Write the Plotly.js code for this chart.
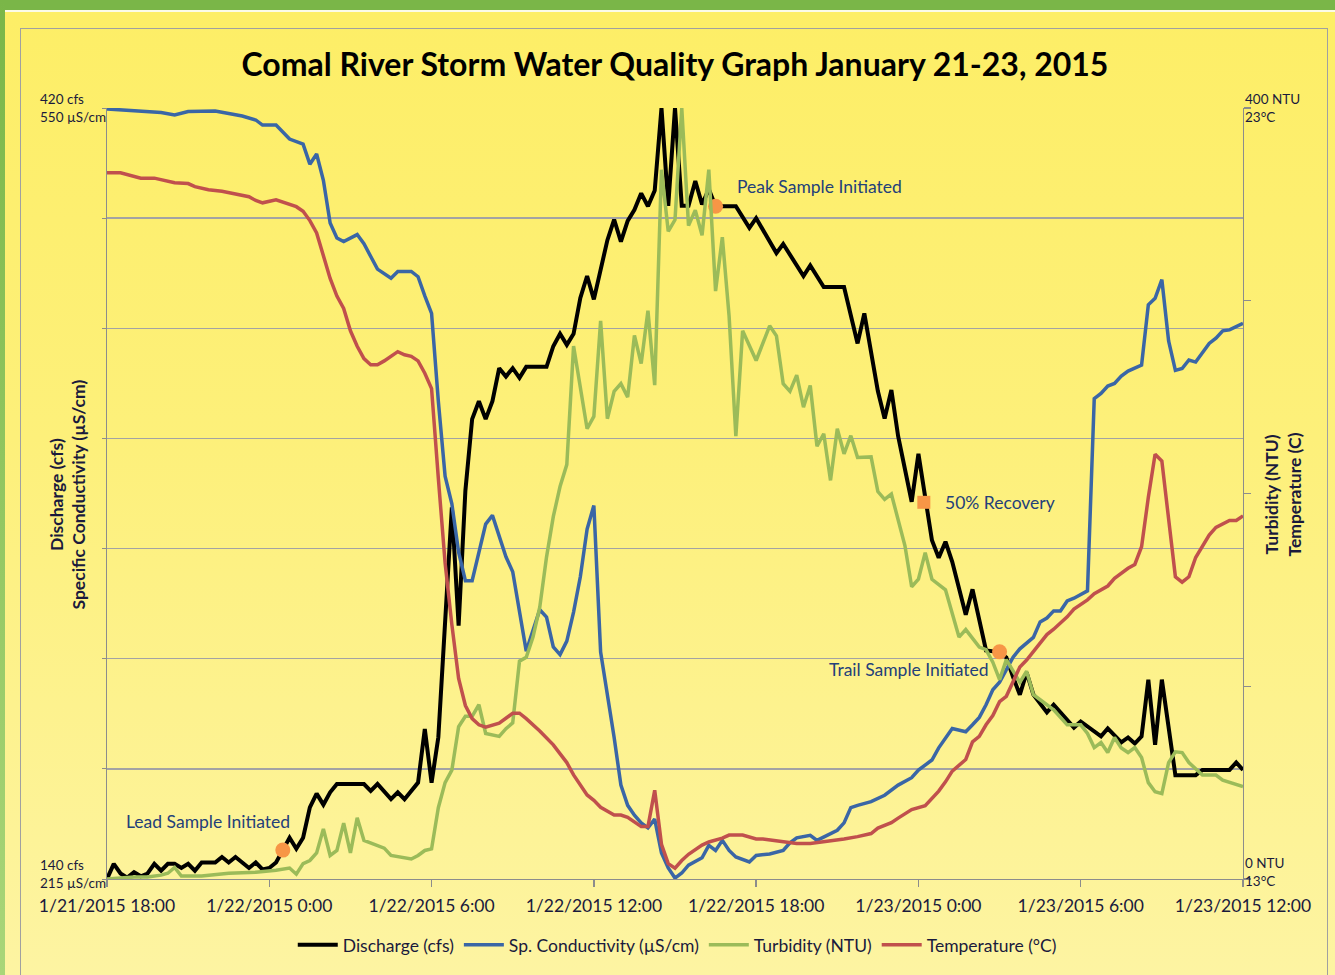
<!DOCTYPE html>
<html>
<head>
<meta charset="utf-8">
<script src="https://cdn.plot.ly/plotly-3.0.1.min.js"></script>
<style>
  html, body { margin: 0; padding: 0; }
  body { width: 1335px; height: 975px; overflow: hidden; position: relative;
         background: linear-gradient(to bottom, #fdee66 0%, #fdf07a 45%, #fdf4a2 100%); }
  #topband { position: absolute; left: 0; top: 0; width: 1335px; height: 10px; background: #7ab648; }
  #whiteline { position: absolute; left: 5px; top: 10px; width: 1330px; height: 2px; background: #fbfbe8; }
  #leftband { position: absolute; left: 0; top: 0; width: 5px; height: 975px; background: linear-gradient(to bottom, #7ab648, #a9d679); }
  #frame { position: absolute; left: 20px; top: 28px; width: 1308px; height: 960px; border: 1px solid #a0a0a0; box-sizing: border-box; }
  #chart { position: absolute; left: 0; top: 0; width: 1335px; height: 975px; }
</style>
</head>
<body>
<div id="topband"></div>
<div id="whiteline"></div>
<div id="leftband"></div>
<div id="frame"></div>
<div id="chart"></div>
<script>
// Hours after 1/21/2015 18:00
const xTickVals = [0, 6, 12, 18, 24, 30, 36, 42];
const xTickText = ["1/21/2015 18:00", "1/22/2015 0:00", "1/22/2015 6:00", "1/22/2015 12:00",
                   "1/22/2015 18:00", "1/23/2015 0:00", "1/23/2015 6:00", "1/23/2015 12:00"];

// Discharge (cfs)
const dischargeT = [0,0.25,0.5,0.75,1,1.25,1.5,1.75,2,2.25,2.5,2.75,3,3.25,3.5,4,4.25,4.5,4.75,5,5.25,5.5,5.75,6,6.25,6.5,6.75,7,7.25,7.5,7.75,8,8.25,8.5,9.5,9.75,10,10.5,10.75,11,11.5,11.75,12,12.25,12.5,12.75,13,13.25,13.5,13.75,14,14.25,14.5,14.75,15,15.25,15.5,16.25,16.5,16.75,17,17.25,17.5,17.75,18,18.25,18.5,18.75,19,19.25,19.5,19.75,20,20.25,20.5,20.75,21,21.25,21.5,21.75,22,22.25,22.5,23.25,23.75,24,24.75,25,25.75,26,26.5,27.25,27.75,28,28.5,28.75,29,29.25,29.75,30,30.5,30.75,31,31.25,31.75,32,32.5,33,33.25,33.5,33.75,34,34.25,34.75,35,35.75,36,36.75,37,37.5,37.75,38,38.25,38.5,38.75,39,39.5,40.25,40.5,41.5,41.75,42];
const dischargeQ = [140,145.5,142,140.5,142.5,141,142,145.5,143,145.5,145.5,144,145.5,143,146,146,148,146,148,146,144,146,143.5,144,146,150.5,155,151,155,166,171,167,171.5,174.5,174.5,172,174.5,169,171.5,169,175,194.5,175,191.5,235,275,232,281,307,313.5,307,313.5,325.5,322.5,325.5,322,326,326,333.5,338,334,338,351,359,350.5,361,372,379.5,371.5,379,383,389,384.3,390,420,384.5,420,384.5,384.5,393.5,385,390.5,384.3,384.3,376.5,380,367.3,370.6,359,362.8,355,355,334.5,345.4,317.2,307.2,317.6,300.8,277,294.4,263,256.7,262.5,255.2,236,245.2,223,222.4,220.5,213.3,206.9,215,207,200.5,203.3,195,197.2,191.8,194.7,189.6,191.4,189.2,191.8,212.4,188.7,212.4,177.7,177.7,179.6,179.6,182.3,179.6];

// Specific conductivity (uS/cm)
const condT = [0,1,2,2.5,3,4,4.5,5,5.5,5.75,6.25,6.75,7.25,7.5,7.75,8,8.25,8.5,8.75,9.25,9.5,10,10.5,10.75,11.25,11.5,11.75,12,12.25,12.5,12.75,13,13.25,13.5,14,14.25,14.75,15,15.5,16,16.25,16.5,16.75,17,17.25,17.5,17.75,18,18.25,18.5,18.75,19,19.25,19.5,19.75,20,20.25,20.5,20.75,21,21.25,21.5,22,22.25,22.5,22.75,23,23.25,23.75,24,24.5,25,25.25,25.5,26,26.25,26.5,27,27.25,27.5,27.75,28.25,28.75,29.25,29.75,30,30.5,30.75,31.25,31.75,32,32.25,32.5,32.75,33,33.25,33.5,33.75,34.25,34.5,34.75,35,35.25,35.5,35.75,36.25,36.5,36.75,37,37.25,37.5,37.75,38.25,38.5,38.75,39,39.25,39.5,39.75,40,40.25,40.75,41,41.25,41.5,42];
const condC = [549.6,548.7,548,547,548.5,548.7,547.5,546.5,544.8,542.6,542.6,536.5,534.3,525.6,530,518.6,500,493.5,492,495,491,480,476,479,479,476.7,468.4,460.8,422.6,390,378,357,344.6,344.6,369.2,373,355,348.5,314,332,328.8,315.8,312.5,318.4,331,346.3,367,377.3,313.6,296,276.5,255.8,247,242.7,239.4,237.2,241,226.3,219.8,215.4,217.6,221,224.2,229.6,227.4,231.8,227.4,224.6,222.4,225.2,225.9,227.4,230.7,232.9,234,231.8,233.3,236.2,239.4,246,247,248.6,251.4,255.8,259,262.3,266.7,272,280.4,279,282,285.2,290.7,297.2,300.5,306,311.4,315,320,326.7,328.4,331.5,331.5,335.8,337,340.2,423.7,426,429.2,430.3,433.5,435.7,438.3,464.5,467.3,475.4,448.8,436,436.8,440.5,439.6,447.7,450,453.2,453.6,456.4];

// Turbidity (NTU)
const turbT = [0,0.5,1,1.5,2,2.25,2.5,2.75,3.5,4.5,5.5,6.25,6.75,7,7.25,7.5,7.75,8,8.25,8.5,8.75,9,9.25,9.5,10,10.25,10.5,11,11.25,11.5,11.75,12,12.25,12.5,12.75,13,13.25,13.5,13.75,14,14.5,14.75,15,15.25,15.5,15.75,16,16.25,16.5,16.75,17,17.25,17.75,18,18.25,18.5,18.75,19,19.25,19.5,19.75,20,20.25,20.5,20.75,21,21.25,21.5,21.75,22,22.25,22.5,22.75,23,23.25,23.5,24,24.5,24.75,25,25.25,25.5,25.75,26,26.25,26.5,26.75,27,27.25,27.5,27.75,28.25,28.5,28.75,29,29.5,29.75,30,30.25,30.5,31,31.5,31.75,32.25,32.5,32.75,33,33.25,33.75,34,34.25,34.5,35,35.5,36,36.25,36.5,36.75,37,37.25,37.5,37.75,38,38.25,38.5,38.75,39,39.25,39.5,39.75,40,40.5,41,41.25,42];
const turbN = [0,0.5,1,1,2,3,6,1.5,1.5,3,3.5,4.5,5.7,2.5,8,9.6,13.5,26,12.2,14.8,29,13.5,31.8,20,17.4,16,12.2,11,10.4,12.2,14.8,15.6,37,50,56.5,79,84.4,84.4,90.4,75.5,74,78,81,113,115,125.5,141,167,188,203.6,215,276.5,233.6,240,289.6,238.8,253,257,250,282,267.4,294.8,256.2,368,336,342,400,339,347,334,368,305,333,292,229.7,284.4,269,287,281.8,257,253,261.4,244.8,256,224.5,231,206.8,233.6,220.6,230,218.7,219,201,197,199.7,173,151.6,155.5,169.3,155.5,150,125.5,129.4,120.3,119,112.5,103.4,113.8,102,107.8,95.6,93,87.8,80,80,75.5,68.2,70.8,65.6,73.4,68,65.6,68.2,63,50,45.3,44.3,60.4,66,65.6,60.4,53.9,53.9,51.3,48];

// Temperature (deg C)
const tempT = [0,0.5,1.25,1.75,2.5,3,3.25,3.75,4.25,4.75,5.25,5.5,5.75,6.25,6.5,7,7.25,7.5,7.75,8,8.25,8.5,8.75,9,9.25,9.5,9.75,10,10.25,10.75,11,11.25,11.5,11.75,12,12.25,12.5,12.75,13,13.25,13.5,13.75,14,14.5,14.75,15,15.25,15.5,16,16.5,17,17.25,17.75,18,18.25,18.75,19,19.25,19.75,20,20.25,20.5,20.75,21,21.25,21.5,22,22.25,22.75,23,23.5,23.75,24,24.25,24.75,25,25.5,26,26.5,27,27.25,27.75,28.25,28.5,29,29.25,29.75,30.25,30.5,30.75,31,31.25,31.75,32,32.25,32.5,32.75,33,33.25,33.5,33.75,34,34.5,34.75,35,35.5,35.75,36.25,36.5,37,37.25,37.75,38,38.25,38.5,38.75,39,39.25,39.5,39.75,40,40.25,40.75,41,41.5,41.75,42];
const tempC = [22.16,22.16,22.09,22.09,22.03,22.02,21.98,21.94,21.92,21.88,21.85,21.8,21.77,21.81,21.78,21.72,21.66,21.54,21.38,21.09,20.79,20.56,20.4,20.11,19.91,19.75,19.67,19.67,19.72,19.84,19.8,19.78,19.72,19.56,19.36,18.2,17.1,16.3,15.6,15.25,15.08,15.0,14.97,15.02,15.08,15.15,15.15,15.08,14.92,14.74,14.51,14.35,14.09,14.02,13.93,13.83,13.83,13.8,13.68,13.68,14.15,13.45,13.2,13.14,13.24,13.32,13.44,13.48,13.53,13.57,13.57,13.55,13.52,13.52,13.5,13.48,13.46,13.46,13.48,13.5,13.52,13.55,13.59,13.66,13.73,13.79,13.9,13.95,14.04,14.14,14.26,14.4,14.55,14.78,14.85,15.0,15.12,15.3,15.37,15.55,15.75,15.84,16.05,16.17,16.24,16.4,16.5,16.62,16.7,16.8,16.9,17.03,17.08,17.31,17.95,18.51,18.42,17.7,16.92,16.85,16.92,17.17,17.46,17.56,17.65,17.65,17.71];

// Sample markers on the discharge curve
const sampleNames = ["Lead Sample Initiated", "Peak Sample Initiated", "50% Recovery", "Trail Sample Initiated"];
const sampleT = [6.5, 22.5, 30.2, 33];
const sampleQ = [150.5, 384.3, 276.8, 222.5];

const txtColor = '#1a1a3c';
const annColor = '#23407a';
const FONT = 'Lato, "Open Sans", sans-serif';

const traces = [
  {x: dischargeT, y: dischargeQ, name: 'Discharge (cfs)', type: 'scatter', mode: 'lines',
   line: {color: '#000000', width: 4}, yaxis: 'y'},
  {x: condT, y: condC, name: 'Sp. Conductivity (µS/cm)', type: 'scatter', mode: 'lines',
   line: {color: '#3a66a6', width: 3.5}, yaxis: 'y2'},
  {x: turbT, y: turbN, name: 'Turbidity (NTU)', type: 'scatter', mode: 'lines',
   line: {color: '#9bbb59', width: 3.5}, yaxis: 'y3'},
  {x: tempT, y: tempC, name: 'Temperature (°C)', type: 'scatter', mode: 'lines',
   line: {color: '#c0504d', width: 3.5}, yaxis: 'y4'},
  {x: [sampleT[0], sampleT[1], sampleT[3]], y: [sampleQ[0], sampleQ[1], sampleQ[3]], type: 'scatter', mode: 'markers',
   marker: {color: '#f79646', size: 15, symbol: 'circle'}, showlegend: false, yaxis: 'y'},
  {x: [sampleT[2]], y: [sampleQ[2]], type: 'scatter', mode: 'markers',
   marker: {color: '#f79646', size: 13, symbol: 'square'}, showlegend: false, yaxis: 'y'}
];

const annotations = [
  {xref: 'paper', yref: 'y', x: -0.061, y: 420, xanchor: 'left', yanchor: 'middle', align: 'left', showarrow: false,
   text: '420 cfs<br>550 µS/cm', font: {family: FONT, size: 13.5, color: txtColor}},
  {xref: 'paper', yref: 'y', x: -0.061, y: 140, yshift: 5, xanchor: 'left', yanchor: 'middle', align: 'left', showarrow: false,
   text: '140 cfs<br>215 µS/cm', font: {family: FONT, size: 13.5, color: txtColor}},
  {xref: 'paper', yref: 'y3', x: 1.0, y: 400, xanchor: 'left', yanchor: 'middle', align: 'left', showarrow: false,
   text: '400 NTU<br>23°C', font: {family: FONT, size: 13.5, color: txtColor}},
  {xref: 'paper', yref: 'y3', x: 1.0, y: 0, yshift: 7, xanchor: 'left', yanchor: 'middle', align: 'left', showarrow: false,
   text: '0 NTU<br>13°C', font: {family: FONT, size: 13.5, color: txtColor}},
  {xref: 'paper', yref: 'paper', x: -0.0352, y: 0.4987, textangle: -90, xanchor: 'center', yanchor: 'middle', showarrow: false,
   text: '<b>Discharge (cfs)<br>Specific Conductivity (µS/cm)</b>', font: {family: FONT, size: 17.5, color: txtColor}},
  {xref: 'paper', yref: 'paper', x: 1.0352, y: 0.4987, textangle: -90, xanchor: 'center', yanchor: 'middle', showarrow: false,
   text: '<b>Turbidity (NTU)<br>Temperature (C)</b>', font: {family: FONT, size: 17.5, color: txtColor}},
  {xref: 'x', yref: 'y', x: 0.63, y: 161, xanchor: 'left', yanchor: 'middle', showarrow: false,
   text: sampleNames[0], font: {family: FONT, size: 17.5, color: annColor}},
  {xref: 'x', yref: 'y', x: 23.22, y: 391.5, xanchor: 'left', yanchor: 'middle', showarrow: false,
   text: sampleNames[1], font: {family: FONT, size: 17.5, color: annColor}},
  {xref: 'x', yref: 'y', x: 30.9, y: 276.8, xanchor: 'left', yanchor: 'middle', showarrow: false,
   text: sampleNames[2], font: {family: FONT, size: 17.5, color: annColor}},
  {xref: 'x', yref: 'y', x: 32.68, y: 216, xanchor: 'right', yanchor: 'middle', showarrow: false,
   text: sampleNames[3], font: {family: FONT, size: 17.5, color: annColor}}
];

const layout = {
  width: 1335, height: 975, autosize: false,
  margin: {l: 107, r: 92, t: 108, b: 93, pad: 0},
  paper_bgcolor: 'rgba(0,0,0,0)', plot_bgcolor: 'rgba(0,0,0,0)',
  font: {family: FONT, color: txtColor},
  title: {text: '<b>Comal River Storm Water Quality Graph January 21-23, 2015</b>',
          x: 0.5056, xanchor: 'center', y: 0.934, yanchor: 'middle', yref: 'container',
          font: {family: FONT, size: 32, color: '#000000'}},
  showlegend: true,
  legend: {orientation: 'h', x: 0.502, xanchor: 'center', y: -0.0855, yanchor: 'middle',
           font: {family: FONT, size: 17.5, color: txtColor}, bgcolor: 'rgba(0,0,0,0)', traceorder: 'normal',
           itemwidth: 40},
  xaxis: {range: [0, 42], tickmode: 'array', tickvals: xTickVals, ticktext: xTickText,
          ticks: 'outside', ticklen: 7, tickcolor: '#8c8c8c', tickwidth: 1.3, ticklabelstandoff: 4,
          showline: true, linecolor: '#8c8c8c', linewidth: 1.3, showgrid: false, zeroline: false,
          tickfont: {family: FONT, size: 17.5, color: txtColor}},
  yaxis: {range: [140, 420], dtick: 40, tick0: 140, showticklabels: false, ticks: 'outside', ticklen: 4,
          tickcolor: '#8c8c8c', showline: true, linecolor: '#8c8c8c', linewidth: 1.3,
          showgrid: true, gridcolor: '#a3a3a3', gridwidth: 1.4, zeroline: false},
  yaxis2: {range: [215, 550], overlaying: 'y', visible: false},
  yaxis3: {range: [0, 400], overlaying: 'y', side: 'right', dtick: 100, tick0: 0, showticklabels: false,
           ticks: 'outside', ticklen: 7, tickcolor: '#8c8c8c', tickwidth: 1.3, showline: true, linecolor: '#8c8c8c',
           linewidth: 1.3, showgrid: false, zeroline: false},
  yaxis4: {range: [13, 23], overlaying: 'y', visible: false},
  annotations: annotations
};

Plotly.newPlot('chart', traces, layout, {staticPlot: true, displayModeBar: false});
</script>
</body>
</html>
